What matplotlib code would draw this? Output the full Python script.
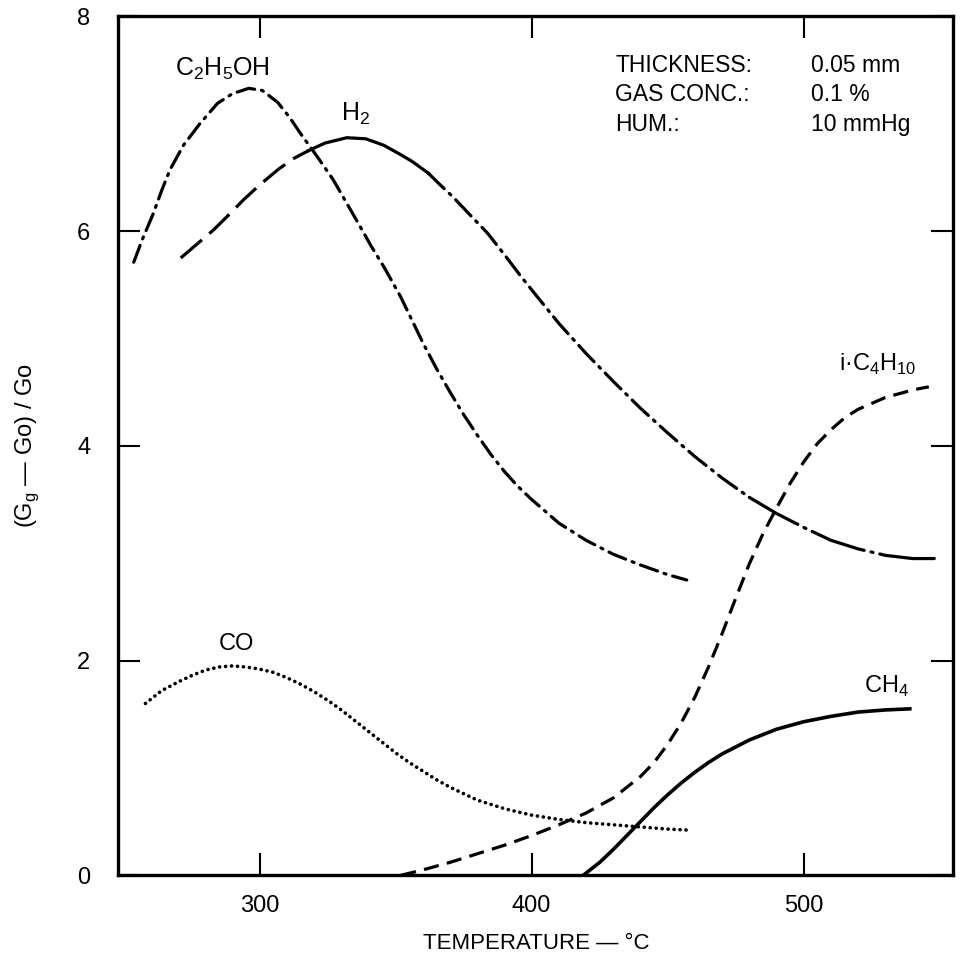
import numpy as np
import matplotlib.pyplot as plt

plt.rcParams['font.family'] = ['Liberation Sans', 'DejaVu Sans']
plt.rcParams['mathtext.fontset'] = 'custom'
plt.rcParams['mathtext.rm'] = 'Liberation Sans'
plt.rcParams['lines.scale_dashes'] = False

# C2H5OH (dash-dot)
eth_t = [253.7, 257, 261, 264, 267, 272, 278, 284.5, 290, 296, 301, 306.6, 311, 315,
         321, 327, 332, 337, 341, 345.6, 351.8, 356, 360, 365, 370, 375, 380, 385,
         390, 395, 400, 410, 420, 430, 440, 450, 457]
eth_v = [5.71, 5.93, 6.17, 6.38, 6.57, 6.8, 7.0, 7.19, 7.28, 7.33, 7.31, 7.2, 7.06, 6.91,
         6.7, 6.48, 6.26, 6.04, 5.86, 5.67, 5.39, 5.17, 4.96, 4.72, 4.5, 4.29, 4.1, 3.92,
         3.76, 3.62, 3.5, 3.28, 3.12, 2.99, 2.89, 2.8, 2.75]

# H2
h2_t = [271, 277, 283, 289, 294, 300, 306.6, 312, 318, 324, 332, 339, 345.6, 352, 356,
        362, 366, 371, 377, 383.8, 390, 396, 402, 410, 420, 430, 440, 450, 460, 470,
        480, 490, 500, 510, 520, 530, 540, 548]
h2_v = [5.75, 5.88, 6.01, 6.16, 6.29, 6.43, 6.57, 6.67, 6.75, 6.82, 6.87, 6.86, 6.8, 6.71, 6.65,
        6.54, 6.44, 6.32, 6.16, 5.98, 5.78, 5.58, 5.39, 5.14, 4.86, 4.6, 4.35, 4.12, 3.9, 3.7,
        3.52, 3.37, 3.24, 3.12, 3.04, 2.98, 2.95, 2.95]

# i-C4H10 (dashed)
but_t = [352, 360, 370, 380, 390, 400, 410, 420, 430, 440, 445, 450, 455, 460, 465,
         470, 475, 480, 485, 490, 495, 500, 505, 510, 515, 520, 530, 540, 546]
but_v = [0.0, 0.05, 0.12, 0.2, 0.28, 0.37, 0.47, 0.58, 0.72, 0.92, 1.05, 1.22, 1.42, 1.66, 1.94,
         2.25, 2.58, 2.9, 3.18, 3.42, 3.65, 3.85, 4.02, 4.15, 4.26, 4.34, 4.45, 4.52, 4.55]

# CO (dotted)
co_t = [258, 264, 270, 275, 280, 285, 290, 295, 300, 305, 310, 315, 320, 325, 330, 335,
        340, 345, 350, 355, 360, 365, 370, 375, 380, 390, 400, 410, 420, 430, 440, 450, 458]
co_v = [1.6, 1.72, 1.8, 1.86, 1.91, 1.94, 1.95, 1.94, 1.92, 1.89, 1.84, 1.78, 1.71, 1.63, 1.54, 1.44,
        1.34, 1.24, 1.14, 1.05, 0.97, 0.89, 0.82, 0.76, 0.7, 0.62, 0.56, 0.52, 0.49, 0.47, 0.45, 0.43, 0.42]

# CH4 (solid)
ch4_t = [419, 425, 430, 435, 440, 445, 450, 455, 460, 465, 470, 480, 490, 500, 510, 520, 530, 539]
ch4_v = [0.0, 0.12, 0.24, 0.37, 0.5, 0.63, 0.75, 0.86, 0.96, 1.05, 1.13, 1.26, 1.36, 1.43, 1.48,
         1.52, 1.54, 1.55]

x_ticks = [300, 400, 500]
y_ticks = [0, 2, 4, 6, 8]

fig = plt.figure(figsize=(9.61, 9.65), dpi=100)
ax = fig.add_axes([0.123, 0.093, 0.869, 0.89])

lw = 2.3
dashdot = (0, (13, 5, 1.5, 5))

ax.plot(eth_t, eth_v, color='black', lw=lw, linestyle=dashdot, dash_capstyle='round')

# H2: dashed rise, solid near peak, dash-dot fall, solid tail
h2_t = np.array(h2_t)
h2_v = np.array(h2_v)
seg1 = h2_t <= 318
seg2 = (h2_t >= 318) & (h2_t <= 362)
seg3 = (h2_t >= 362) & (h2_t <= 480)
seg4 = h2_t >= 480
ax.plot(h2_t[seg1], h2_v[seg1], color='black', lw=lw, linestyle=(0, (20, 7)))
ax.plot(h2_t[seg2], h2_v[seg2], color='black', lw=lw)
ax.plot(h2_t[seg3], h2_v[seg3], color='black', lw=lw, linestyle=(0, (16, 5, 1.5, 5)),
        dash_capstyle='round')
ax.plot(h2_t[seg4], h2_v[seg4], color='black', lw=lw, linestyle=(0, (40, 5, 1.5, 5)),
        dash_capstyle='round')

ax.plot(but_t, but_v, color='black', lw=lw, linestyle=(0, (11, 6)))
ax.plot(co_t, co_v, color='black', lw=2.6, linestyle=(0, (0.1, 4.2)), dash_capstyle='round')
ax.plot(ch4_t, ch4_v, color='black', lw=2.6)

ax.set_xlim(248, 555)
ax.set_ylim(0, 8)
ax.set_xticks(x_ticks)
ax.set_yticks(y_ticks)
ax.tick_params(direction='in', length=16, width=1.5, labelsize=17,
               top=True, right=True)
ax.tick_params(axis='x', pad=14)
ax.tick_params(axis='y', pad=20)
for s in ax.spines.values():
    s.set_linewidth(2.4)

ax.set_xlabel('TEMPERATURE — °C', fontsize=16, labelpad=12)
ax.set_ylabel(r'(G$_\mathregular{g}$ — Go) / Go', fontsize=17, labelpad=26)

ax.text(269, 7.45, r'C$_\mathregular{2}$H$_\mathregular{5}$OH', fontsize=18)
ax.text(330, 7.03, r'H$_\mathregular{2}$', fontsize=18)
ax.text(513, 4.7, r'i·C$_\mathregular{4}$H$_\mathregular{10}$', fontsize=17)
ax.text(285, 2.1, 'CO', fontsize=17)
ax.text(522, 1.7, r'CH$_\mathregular{4}$', fontsize=17)

rows = [('THICKNESS:', '0.05 mm'), ('GAS CONC.:', '0.1 %'), ('HUM.:', '10 mmHg')]
for i, (k, v) in enumerate(rows):
    ax.text(0.595, 0.935 - i * 0.034, k, transform=ax.transAxes, fontsize=16.5)
    ax.text(0.83, 0.935 - i * 0.034, v, transform=ax.transAxes, fontsize=16.5)

fig.savefig('out.png', dpi=100)
